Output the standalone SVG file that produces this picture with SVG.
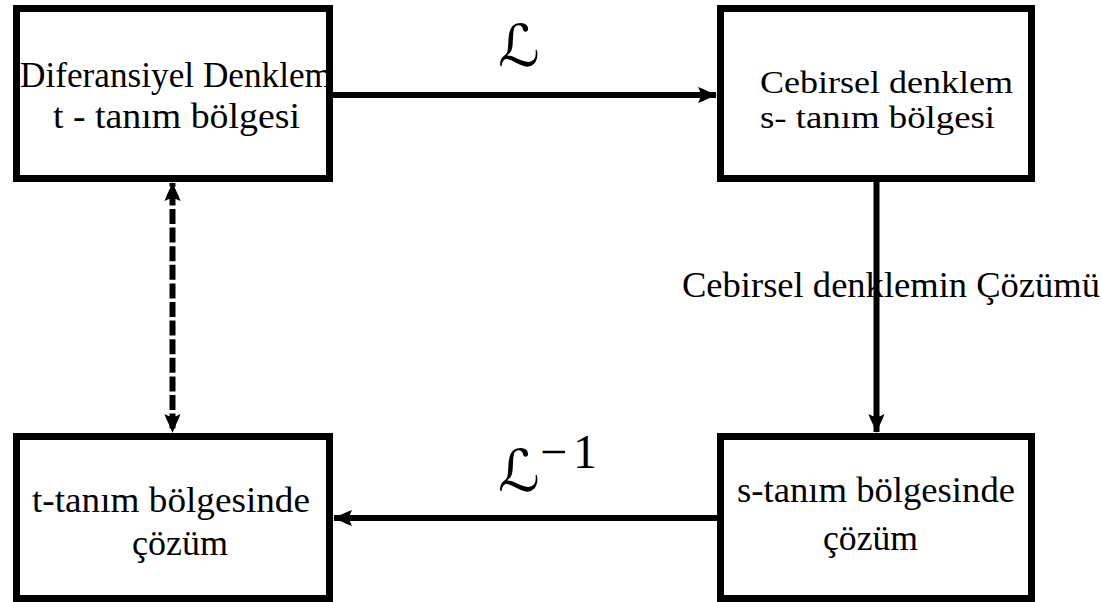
<svg xmlns="http://www.w3.org/2000/svg" width="1102" height="602" viewBox="0 0 1102 602">
  <style>
    .box { fill: #fff; stroke: #000; stroke-width: 7; }
    .lbl { font-family: "Liberation Serif", "Times New Roman", serif; font-size: 36px; fill: #000; }
    .tight { font-size: 32px; }
    .op { font-family: "DejaVu Serif", "DejaVu Sans", serif; font-style: italic; font-size: 58px; fill: #000; }
    .sup { font-family: "Liberation Serif", "Times New Roman", serif; font-size: 48px; fill: #000; }
    .edge { fill: none; stroke: #000; stroke-width: 6; }
    .dash { stroke-dasharray: 15 3.6; stroke-dashoffset: -7.4; }
  </style>
  <defs>
    <marker id="head" viewBox="-20 -10 22 20" refX="0" refY="0" markerWidth="22" markerHeight="20" markerUnits="userSpaceOnUse" orient="auto-start-reverse">
      <path d="M1,0 C-5,-2 -12,-6 -18,-8 Q-13,0 -18,8 C-12,6 -5,2 1,0 Z" fill="#000"/>
    </marker>
  </defs>

  <g id="connectors">
    <!-- Laplace transform: t-domain to s-domain -->
    <path class="edge" d="M333,95 L716,95" marker-end="url(#head)"/>
    <!-- solve the algebraic equation -->
    <path class="edge" d="M876.5,182 L876.5,432" marker-end="url(#head)"/>
    <!-- inverse Laplace transform -->
    <path class="edge" d="M717,518 L334,518" marker-end="url(#head)"/>
    <!-- equivalence between differential equation and its solution -->
    <path class="edge dash" d="M172.5,183 L172.5,432" marker-start="url(#head)" marker-end="url(#head)"/>
  </g>

  <g id="diff-eq">
    <rect class="box" x="16.5" y="8.5" width="313" height="170"/>
    <text class="lbl" x="20" y="87" textLength="312" lengthAdjust="spacingAndGlyphs">Diferansiyel Denklem</text>
    <text class="lbl" x="53" y="128" textLength="247" lengthAdjust="spacingAndGlyphs">t - tanım bölgesi</text>
  </g>

  <g id="alg-eq">
    <rect class="box" x="720.5" y="8.5" width="311" height="170"/>
    <text class="lbl tight" x="760" y="93" textLength="253" lengthAdjust="spacingAndGlyphs">Cebirsel denklem</text>
    <text class="lbl tight" x="760" y="128" textLength="235" lengthAdjust="spacingAndGlyphs">s- tanım bölgesi</text>
  </g>

  <g id="s-solution">
    <rect class="box" x="720.5" y="436.5" width="311" height="162"/>
    <text class="lbl" x="737" y="502" textLength="278" lengthAdjust="spacingAndGlyphs">s-tanım bölgesinde</text>
    <text class="lbl" x="823" y="550" textLength="95" lengthAdjust="spacingAndGlyphs">çözüm</text>
  </g>

  <g id="t-solution">
    <rect class="box" x="16.5" y="436.5" width="313" height="162"/>
    <text class="lbl" x="32" y="512" textLength="278" lengthAdjust="spacingAndGlyphs">t-tanım bölgesinde</text>
    <text class="lbl" x="132" y="555" textLength="96" lengthAdjust="spacingAndGlyphs">çözüm</text>
  </g>

  <g id="edge-labels">
    <text class="op" x="498" y="66">ℒ</text>
    <text class="op" x="498" y="491">ℒ</text>
    <text class="sup" x="540" y="468" textLength="57" lengthAdjust="spacing">−1</text>
    <text class="lbl" x="682" y="297" textLength="418" lengthAdjust="spacingAndGlyphs">Cebirsel denklemin Çözümü</text>
  </g>
</svg>
